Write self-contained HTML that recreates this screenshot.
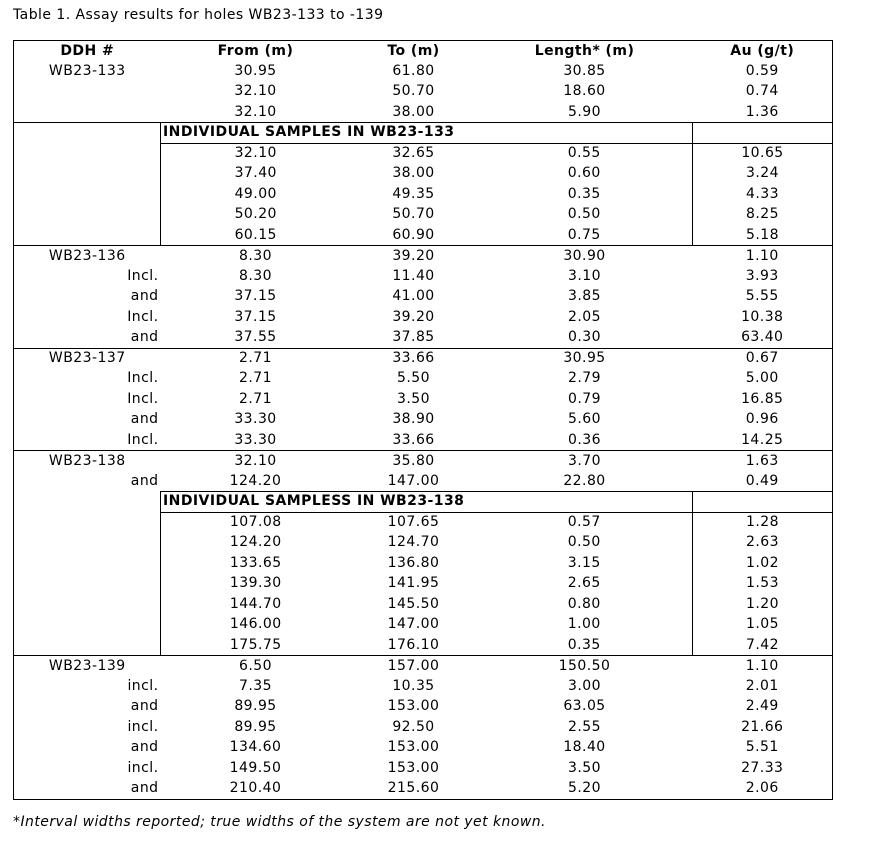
<!DOCTYPE html>
<html><head><style>
body{margin:0;background:#fff;font-family:"DejaVu Sans",Verdana,sans-serif;font-size:14px;letter-spacing:0.45px;color:#000;width:885px;height:843px;overflow:hidden;position:relative}
.t{position:absolute;left:13px;top:7px}
table{position:absolute;left:13px;top:40px;border-collapse:collapse;table-layout:fixed;width:819px;border:1px solid #000}
tr{height:20.5px}
td{padding:0;text-align:center;line-height:19px;white-space:nowrap;overflow:visible}
th{padding:0;font-weight:bold;line-height:19px}
.r{text-align:right;padding-right:2px}
.b{border-top:1px solid #000}
.l{border-left:1px solid #000}
.h{font-weight:bold;text-align:left;padding-left:2px}
.n{position:absolute;left:13px;top:814px;font-style:italic}
</style></head><body>
<div class="t">Table 1. Assay results for holes WB23-133 to -139</div>
<table>
<colgroup><col style="width:147px"><col style="width:190px"><col style="width:126px"><col style="width:216px"><col style="width:140px"></colgroup>
<tr><th>DDH #</th><th>From (m)</th><th>To (m)</th><th>Length* (m)</th><th>Au (g/t)</th></tr>
<tr><td>WB23-133</td><td>30.95</td><td>61.80</td><td>30.85</td><td>0.59</td></tr>
<tr><td></td><td>32.10</td><td>50.70</td><td>18.60</td><td>0.74</td></tr>
<tr><td></td><td>32.10</td><td>38.00</td><td>5.90</td><td>1.36</td></tr>
<tr><td class="b" rowspan="6"></td><td class="b l h" colspan="3">INDIVIDUAL SAMPLES IN WB23-133</td><td class="b l"></td></tr>
<tr><td class="b l">32.10</td><td class="b">32.65</td><td class="b">0.55</td><td class="b l">10.65</td></tr>
<tr><td class="l">37.40</td><td>38.00</td><td>0.60</td><td class="l">3.24</td></tr>
<tr><td class="l">49.00</td><td>49.35</td><td>0.35</td><td class="l">4.33</td></tr>
<tr><td class="l">50.20</td><td>50.70</td><td>0.50</td><td class="l">8.25</td></tr>
<tr><td class="l">60.15</td><td>60.90</td><td>0.75</td><td class="l">5.18</td></tr>
<tr><td class="b">WB23-136</td><td class="b">8.30</td><td class="b">39.20</td><td class="b">30.90</td><td class="b">1.10</td></tr>
<tr><td class="r">Incl.</td><td>8.30</td><td>11.40</td><td>3.10</td><td>3.93</td></tr>
<tr><td class="r">and</td><td>37.15</td><td>41.00</td><td>3.85</td><td>5.55</td></tr>
<tr><td class="r">Incl.</td><td>37.15</td><td>39.20</td><td>2.05</td><td>10.38</td></tr>
<tr><td class="r">and</td><td>37.55</td><td>37.85</td><td>0.30</td><td>63.40</td></tr>
<tr><td class="b">WB23-137</td><td class="b">2.71</td><td class="b">33.66</td><td class="b">30.95</td><td class="b">0.67</td></tr>
<tr><td class="r">Incl.</td><td>2.71</td><td>5.50</td><td>2.79</td><td>5.00</td></tr>
<tr><td class="r">Incl.</td><td>2.71</td><td>3.50</td><td>0.79</td><td>16.85</td></tr>
<tr><td class="r">and</td><td>33.30</td><td>38.90</td><td>5.60</td><td>0.96</td></tr>
<tr><td class="r">Incl.</td><td>33.30</td><td>33.66</td><td>0.36</td><td>14.25</td></tr>
<tr><td class="b">WB23-138</td><td class="b">32.10</td><td class="b">35.80</td><td class="b">3.70</td><td class="b">1.63</td></tr>
<tr><td class="r">and</td><td>124.20</td><td>147.00</td><td>22.80</td><td>0.49</td></tr>
<tr><td rowspan="8"></td><td class="b l h" colspan="3">INDIVIDUAL SAMPLESS IN WB23-138</td><td class="b l"></td></tr>
<tr><td class="b l">107.08</td><td class="b">107.65</td><td class="b">0.57</td><td class="b l">1.28</td></tr>
<tr><td class="l">124.20</td><td>124.70</td><td>0.50</td><td class="l">2.63</td></tr>
<tr><td class="l">133.65</td><td>136.80</td><td>3.15</td><td class="l">1.02</td></tr>
<tr><td class="l">139.30</td><td>141.95</td><td>2.65</td><td class="l">1.53</td></tr>
<tr><td class="l">144.70</td><td>145.50</td><td>0.80</td><td class="l">1.20</td></tr>
<tr><td class="l">146.00</td><td>147.00</td><td>1.00</td><td class="l">1.05</td></tr>
<tr><td class="l">175.75</td><td>176.10</td><td>0.35</td><td class="l">7.42</td></tr>
<tr><td class="b">WB23-139</td><td class="b">6.50</td><td class="b">157.00</td><td class="b">150.50</td><td class="b">1.10</td></tr>
<tr><td class="r">incl.</td><td>7.35</td><td>10.35</td><td>3.00</td><td>2.01</td></tr>
<tr><td class="r">and</td><td>89.95</td><td>153.00</td><td>63.05</td><td>2.49</td></tr>
<tr><td class="r">incl.</td><td>89.95</td><td>92.50</td><td>2.55</td><td>21.66</td></tr>
<tr><td class="r">and</td><td>134.60</td><td>153.00</td><td>18.40</td><td>5.51</td></tr>
<tr><td class="r">incl.</td><td>149.50</td><td>153.00</td><td>3.50</td><td>27.33</td></tr>
<tr><td class="r">and</td><td>210.40</td><td>215.60</td><td>5.20</td><td>2.06</td></tr>
</table>
<div class="n">*Interval widths reported; true widths of the system are not yet known.</div>
</body></html>
